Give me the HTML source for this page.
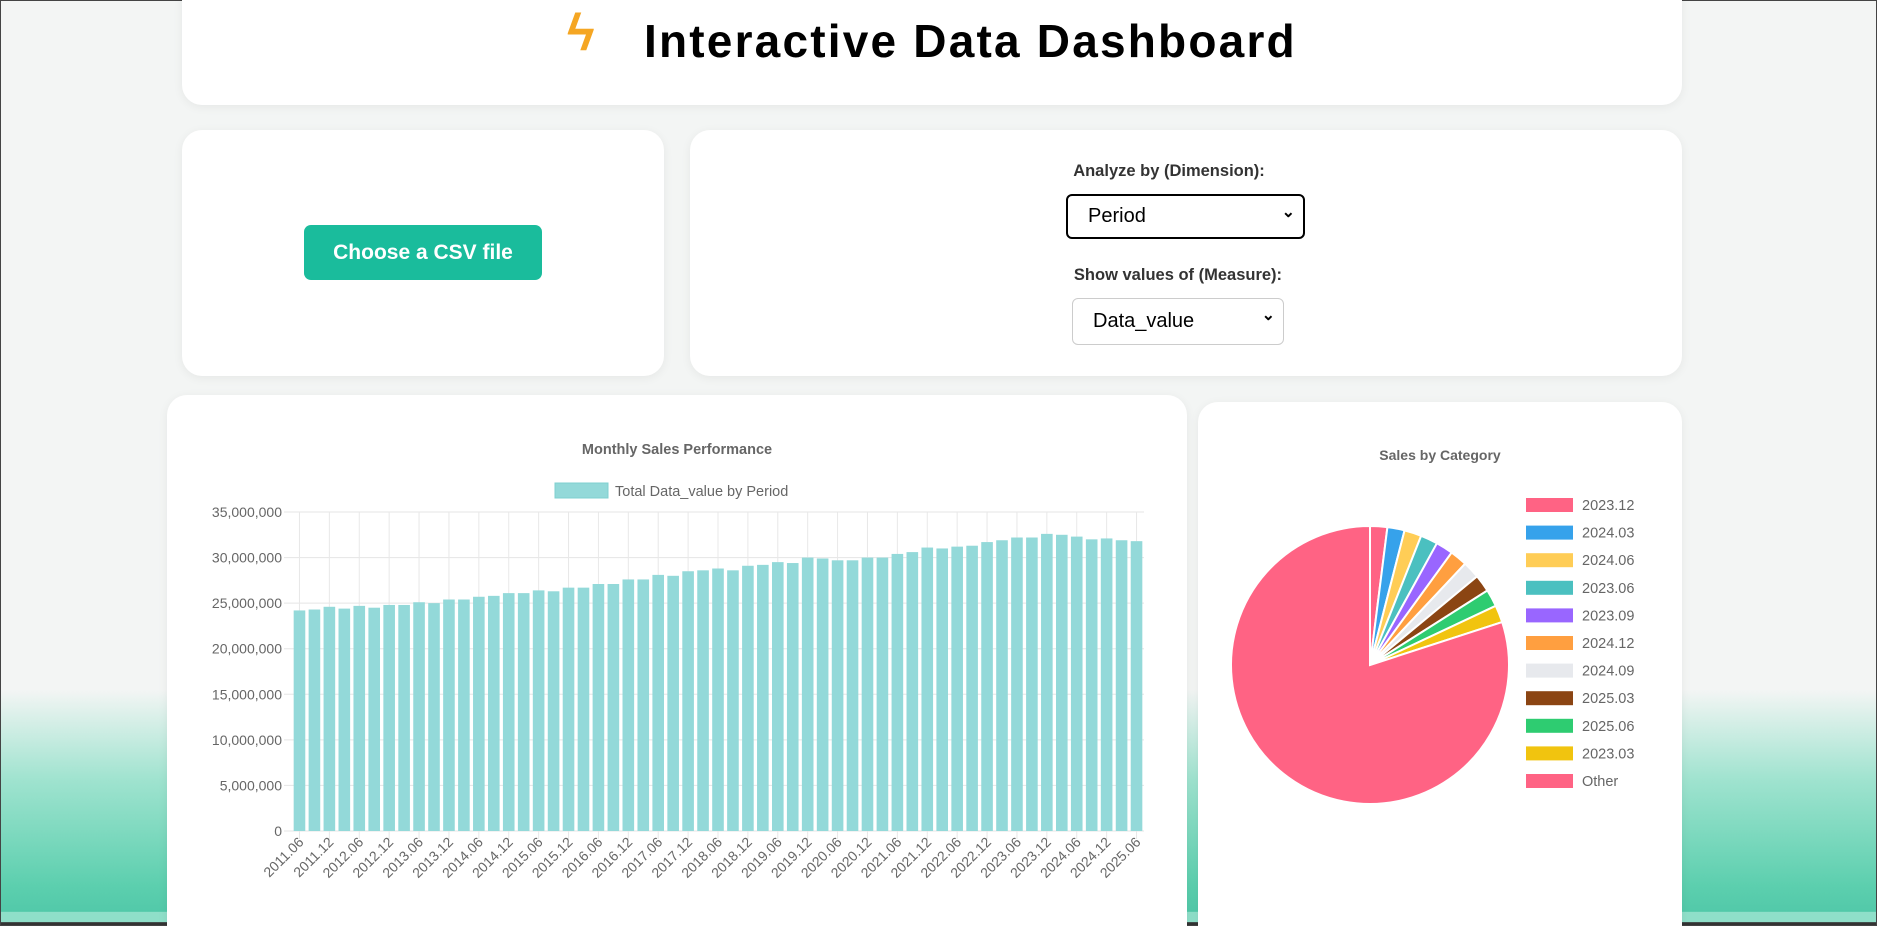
<!DOCTYPE html>
<html><head><meta charset="utf-8"><style>
*{margin:0;padding:0;box-sizing:border-box}
html,body{width:1877px;height:926px;overflow:hidden}
body{position:relative;font-family:"Liberation Sans",Arial,sans-serif;background:linear-gradient(to bottom,#f3f5f4 0,#f3f5f4 690px,#9fe3cf 780px,#5ccfae 886px,#52c9a9 912px,#8fdfc9 912px,#8fdfc9 922px,#333 922px);border:1px solid #444}
.card{position:absolute;background:#fff;border-radius:20px;box-shadow:0 2px 10px rgba(0,0,0,0.06)}
.lbl{position:absolute;font-weight:bold;font-size:16.5px;color:#333;text-align:center;width:300px}
.sel{position:absolute;background:#fff;border-radius:6px;font-size:20px;color:#000;padding-left:20px;display:flex;align-items:center}
.sel:after{content:"⌄";position:absolute;right:8px;top:6px;font-size:16px;font-weight:bold}
</style></head><body>
<div class="card" style="left:181px;top:-20px;width:1500px;height:124px"></div>
<div style="position:absolute;left:566px;top:2px;font-size:52px;color:#f5a623;font-weight:bold">ϟ</div>
<div style="position:absolute;left:643px;top:13px;font-size:46px;font-weight:bold;color:#000;letter-spacing:2.2px">Interactive Data Dashboard</div>

<div class="card" style="left:181px;top:129px;width:482px;height:246px"></div>
<div style="position:absolute;left:303px;top:224px;width:238px;height:55px;background:#1abc9c;border-radius:7px;color:#fff;font-weight:bold;font-size:21px;display:flex;align-items:center;justify-content:center">Choose a CSV file</div>

<div class="card" style="left:689px;top:129px;width:992px;height:246px"></div>
<div class="lbl" style="left:1018px;top:161px">Analyze by (Dimension):</div>
<div class="sel" style="left:1065px;top:193px;width:239px;height:45px;border:2px solid #000">Period</div>
<div class="lbl" style="left:1027px;top:265px">Show values of (Measure):</div>
<div class="sel" style="left:1071px;top:297px;width:212px;height:47px;border:1.5px solid #ccc">Data_value</div>

<div class="card" style="left:166px;top:394px;width:1020px;height:560px"></div>
<div class="card" style="left:1197px;top:401px;width:484px;height:560px"></div>

<svg style="position:absolute;left:0;top:0" width="1877" height="926" font-family="Liberation Sans,Arial,sans-serif">
<text x="676" y="453" text-anchor="middle" font-size="14.5" font-weight="bold" fill="#666">Monthly Sales Performance</text>
<rect x="554" y="482" width="53" height="15" fill="#93d9d9" stroke="#7fd0d0"/>
<text x="614" y="495" font-size="14.5" fill="#666">Total Data_value by Period</text>
<g id="bars"></g>
<text x="1439" y="459" text-anchor="middle" font-size="14" font-weight="bold" fill="#666">Sales by Category</text>
<g id="pie"></g>
</svg>
<script>
var vals=[24.2,24.3,24.6,24.4,24.7,24.5,24.8,24.8,25.1,25.0,25.4,25.4,25.7,25.8,26.1,26.1,26.4,26.3,26.7,26.7,27.1,27.1,27.6,27.6,28.1,28.0,28.5,28.6,28.8,28.6,29.1,29.2,29.5,29.4,30.0,29.9,29.7,29.7,30.0,30.0,30.4,30.6,31.1,31.0,31.2,31.3,31.7,31.9,32.2,32.2,32.6,32.5,32.3,32.0,32.1,31.9,31.8];
var s='',L=291,R=1143,T=511,B=830,n=vals.length,w=(R-L)/n;
for(var i=0;i<=7;i++){var y=B-i*(B-T)/7;s+='<line x1="'+(L-8)+'" x2="'+R+'" y1="'+y+'" y2="'+y+'" stroke="#e5e5e5"/>';
s+='<text x="281" y="'+(y+5)+'" text-anchor="end" font-size="14" fill="#666">'+(i==0?'0':(i*5)+',000,000')+'</text>';}
for(var i=0;i<n;i+=2){var x=L+i*w+w/2;s+='<line x1="'+x+'" x2="'+x+'" y1="'+T+'" y2="'+(B+8)+'" stroke="#e8e8e8"/>';}
for(var i=0;i<n;i++){var x=L+i*w+w/2,h=vals[i]/35*(B-T);s+='<rect x="'+(x-5.8)+'" y="'+(B-h)+'" width="11.6" height="'+h+'" fill="#93d9d9"/>';}
for(var i=0;i<n;i+=2){var x=L+i*w+w/2;var q=i/2;var year=2011+Math.floor(q/2);var m=(q%2==0)?'06':'12';
s+='<text transform="translate('+(x+5)+','+(B+12)+') rotate(-45)" text-anchor="end" font-size="14" fill="#666">'+year+'.'+m+'</text>';}
document.getElementById('bars').innerHTML=s;
var cols=['#ff6384','#36a2eb','#ffcd56','#4bc0c0','#9966ff','#ff9f40','#e7e9ed','#8b4513','#2ecc71','#f1c40f','#ff6384'];
var names=['2023.12','2024.03','2024.06','2023.06','2023.09','2024.12','2024.09','2025.03','2025.06','2023.03','Other'];
var cx=1369,cy=664,r=139,p='',a=-90;
for(var i=0;i<11;i++){var d=i<10?7.2:288;var a1=a*Math.PI/180,a2=(a+d)*Math.PI/180;
p+='<path d="M'+cx+','+cy+' L'+(cx+r*Math.cos(a1))+','+(cy+r*Math.sin(a1))+' A'+r+','+r+' 0 '+(d>180?1:0)+' 1 '+(cx+r*Math.cos(a2))+','+(cy+r*Math.sin(a2))+' Z" fill="'+cols[i]+'" stroke="#fff" stroke-width="2"/>';a+=d;
var ly=504+i*27.6;p+='<rect x="1525" y="'+(ly-7)+'" width="47" height="14" fill="'+cols[i]+'"/><text x="1581" y="'+(ly+5)+'" font-size="14.5" fill="#666">'+names[i]+'</text>';}
document.getElementById('pie').innerHTML=p;
</script>
</body></html>
